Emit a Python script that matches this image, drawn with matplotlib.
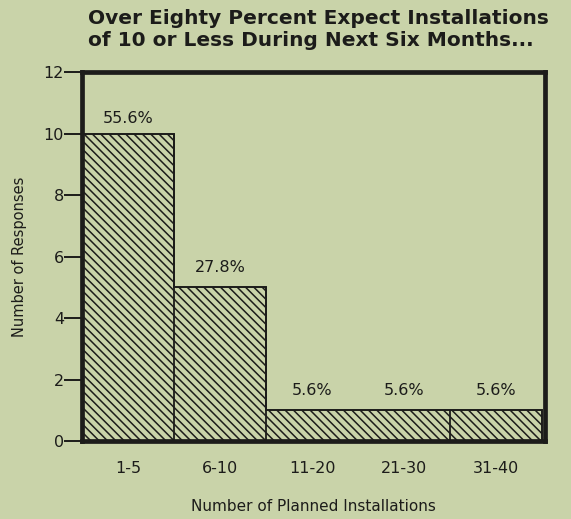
import numpy as np
import matplotlib
matplotlib.use('Agg')
import matplotlib.pyplot as plt

# ── data ───────────────────────────────────────────────────────────────────────
CATEGORIES = ["1-5", "6-10", "11-20", "21-30", "31-40"]
RESPONSES  = [10, 5, 1, 1, 1]
PERCENTS   = ["55.6%", "27.8%", "5.6%", "5.6%", "5.6%"]

BG   = "#c9d3a9"
INK  = "#1c1c1a"

plt.rcParams['font.family'] = ['DejaVu Sans']
plt.rcParams['hatch.linewidth'] = 1.1

fig = plt.figure(figsize=(5.71, 5.19), dpi=100, facecolor=BG)
ax = fig.add_axes([0.1436, 0.150, 0.811, 0.711], facecolor=BG)

x = np.arange(len(CATEGORIES))
ax.bar(x, RESPONSES, width=1.0, align="edge", color=BG, edgecolor=INK,
       linewidth=0, hatch="\\\\\\\\", zorder=2)

# outline: step across the tops, vertical separators (none between 11-20 and 21-30)
edges = np.append(x, len(x))
ax.stairs(RESPONSES, edges, color=INK, linewidth=1.4, zorder=3)
for i in range(1, len(x)):
    if i == 3:
        continue
    ax.vlines(edges[i], 0, max(RESPONSES[i - 1], RESPONSES[i]),
              color=INK, linewidth=1.3, zorder=3)

# percent labels
offsets = [0.25, 0.4, 0.4, 0.4, 0.4]
for xi, v, p, o in zip(x, RESPONSES, PERCENTS, offsets):
    ax.text(xi + 0.5, v + o, p, ha="center", va="bottom",
            fontsize=11.5, color=INK)

ax.set_xlim(0, 5.03)
ax.set_ylim(0, 12)
ax.set_yticks(range(0, 13, 2))
ax.tick_params(axis="y", direction="out", length=13, width=1.4, colors=INK,
               labelsize=11.5, pad=0)
ax.set_xticks(x + 0.5)
ax.set_xticklabels(CATEGORIES, fontsize=11.5, color=INK)
ax.tick_params(axis="x", length=0, pad=14)
for s in ax.spines.values():
    s.set_linewidth(3.4)
    s.set_color(INK)

ax.set_ylabel("Number of Responses", fontsize=10.5, color=INK, labelpad=12)
ax.set_xlabel("Number of Planned Installations", fontsize=11, color=INK,
              labelpad=17)

fig.text(0.154, 0.982, "Over Eighty Percent Expect Installations\n"
         "of 10 or Less During Next Six Months...",
         ha="left", va="top", fontsize=14.5, fontweight="bold", color=INK,
         linespacing=1.18)

plt.savefig("out.png", dpi=100, facecolor=BG)
